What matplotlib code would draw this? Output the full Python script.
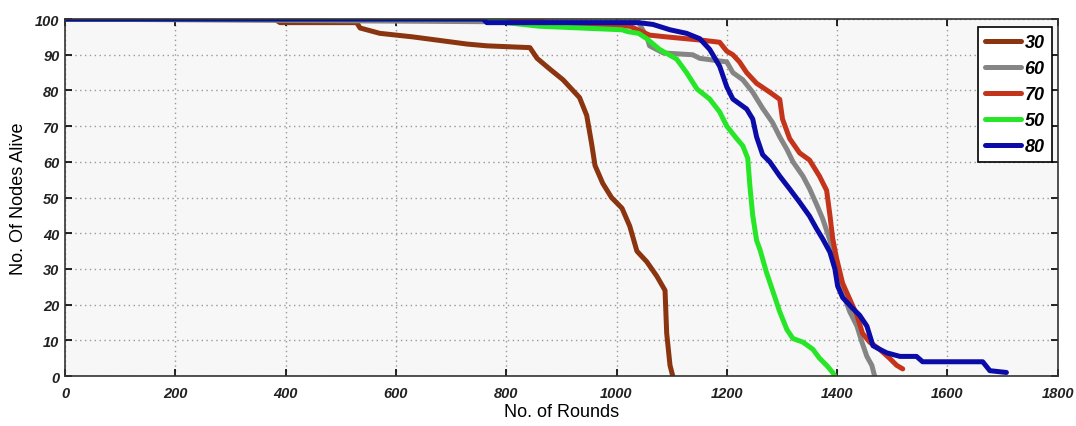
import matplotlib
matplotlib.use("Agg")
import matplotlib.pyplot as plt

# Data
x30 = [0, 380, 390, 529, 535, 571, 631, 729, 765, 843, 856, 879, 903, 933, 946, 955, 961, 975, 991, 1010, 1024, 1037, 1055, 1073, 1088, 1091, 1097, 1102]
y30 = [100, 100, 99, 99, 97.5, 96, 95, 93, 92.5, 92, 89, 86, 83, 78, 73, 65, 59, 54, 50, 47, 42, 35, 32, 28, 24, 12, 3, 0]

x60 = [0, 1040, 1055, 1060, 1085, 1138, 1151, 1175, 1200, 1211, 1229, 1247, 1265, 1283, 1296, 1309, 1320, 1338, 1350, 1363, 1374, 1387, 1399, 1410, 1423, 1436, 1445, 1454, 1463, 1468]
y60 = [100, 99, 95, 92.5, 90.5, 90, 89, 88.5, 88, 85, 83, 79.5, 75, 71, 67, 63.5, 60, 56, 52.5, 48, 44, 38, 31, 23.5, 18, 14, 9.5, 5.5, 3, 0]

x70 = [0, 860, 870, 1024, 1060, 1091, 1160, 1187, 1200, 1211, 1223, 1236, 1254, 1278, 1296, 1301, 1314, 1332, 1350, 1368, 1381, 1387, 1392, 1399, 1410, 1423, 1436, 1446, 1459, 1477, 1495, 1508, 1519]
y70 = [100, 100, 99, 98, 95.5, 95, 94, 93.5, 91, 90, 88, 85, 82, 79.5, 77.5, 72, 66.5, 62.5, 60.5, 56, 52, 45, 38.5, 33, 26, 21.5, 17, 12, 9.5, 7.5, 5, 3, 2]

x50 = [0, 790, 800, 860, 1010, 1020, 1040, 1055, 1078, 1109, 1127, 1146, 1169, 1187, 1200, 1218, 1229, 1238, 1242, 1247, 1254, 1260, 1272, 1283, 1296, 1309, 1320, 1338, 1356, 1368, 1381, 1392, 1396]
y50 = [100, 100, 99, 98, 97, 96.5, 96, 94.5, 91.5, 88.8, 85, 80.4, 77.6, 74, 70, 66.5, 64.5, 61, 53, 45, 38, 35.5, 29, 24, 18, 13, 10.5, 9.5, 7.5, 5, 3, 1, 0]

x80 = [0, 758, 765, 1040, 1066, 1097, 1127, 1151, 1169, 1187, 1200, 1211, 1236, 1247, 1254, 1265, 1278, 1296, 1314, 1332, 1350, 1363, 1374, 1387, 1396, 1401, 1410, 1428, 1441, 1454, 1465, 1477, 1490, 1514, 1544, 1555, 1664, 1677, 1707]
y80 = [100, 100, 99, 99, 98.5, 97, 96, 94.5, 91.5, 86.8, 81, 77.6, 74.8, 72, 67, 62, 60, 56, 52.4, 48.7, 44.8, 41.2, 38.4, 34.7, 30, 25.2, 22, 19, 17, 14, 8.5, 7.5, 6.5, 5.5, 5.5, 4, 4, 1.5, 1]

labels = ["30", "60", "70", "50", "80"]
colors = ["#8a3510", "#858585", "#c3341b", "#27e627", "#0b0ba8"]
xticks = [0, 200, 400, 600, 800, 1000, 1200, 1400, 1600, 1800]
yticks = [0, 10, 20, 30, 40, 50, 60, 70, 80, 90, 100]

plt.rcParams['font.family'] = ['Liberation Sans', 'DejaVu Sans']

fig = plt.figure(figsize=(10.76, 4.27), dpi=100)
ax = fig.add_axes([0.0604, 0.117, 0.9226, 0.836])
ax.set_facecolor("#f7f7f7")

series = [(x30, y30), (x60, y60), (x70, y70), (x50, y50), (x80, y80)]
for (xs, ys), lab, col in zip(series, labels, colors):
    ax.plot(xs, ys, color=col, lw=3.6, label=lab, solid_capstyle='round', solid_joinstyle='round')

ax.set_xlim(0, 1800)
ax.set_ylim(0, 100)
ax.set_xticks(xticks)
ax.set_yticks(yticks)
ax.set_xticklabels([str(t) for t in xticks], fontsize=10.5, fontweight='bold', style='italic', color='#222')
ax.set_yticklabels([str(t) for t in yticks], fontsize=10.5, fontweight='bold', style='italic', color='#222')
ax.tick_params(axis='x', pad=7)
ax.tick_params(axis='y', pad=4)
ax.tick_params(direction='in', top=True, right=True, length=5, width=1.2)
ax.grid(True, linestyle=(0, (1, 2.5)), color='#999999', lw=1)
for s in ax.spines.values():
    s.set_color('#333')
    s.set_linewidth(1.2)

ax.set_xlabel("No. of Rounds", fontsize=13, labelpad=2)
ax.set_ylabel("No. Of Nodes Alive", fontsize=13, labelpad=6)

leg = ax.legend(loc='upper right', bbox_to_anchor=(0.994, 0.978), borderaxespad=0, fancybox=False,
                edgecolor='black', framealpha=1, facecolor='white', handlelength=2.0, handletextpad=0.2,
                labelspacing=0.5, borderpad=0.4, prop={'weight': 'bold', 'style': 'italic', 'size': 13})
leg.get_frame().set_linewidth(1.2)

fig.savefig("out.png", dpi=100)
